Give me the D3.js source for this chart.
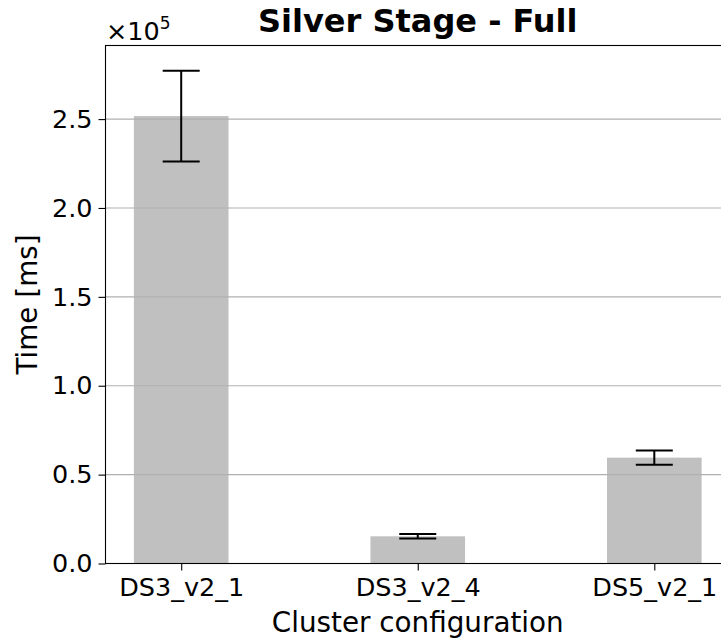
<!DOCTYPE html>
<html><head><meta charset="utf-8">
<script src="https://cdn.jsdelivr.net/npm/d3@7"></script>
<style>body{margin:0;background:#fff}svg{display:block}text{font-family:"DejaVu Sans",sans-serif}</style>
</head><body><svg id="c" width="721" height="639"></svg>
<script>
const categories = ["DS3_v2_1", "DS3_v2_4", "DS5_v2_1"];
const values = [251700, 15300, 59550];
const errors = [25500, 1300, 4000];
const yTicks = [0, 50000, 100000, 150000, 200000, 250000];
const yTickLabels = ["0.0", "0.5", "1.0", "1.5", "2.0", "2.5"];

(function(){
const svg = d3.select("#c");
const L = 105.5, R = 730, T = 45.5, B = 563.5;
const x = d3.scaleLinear().domain([-0.32, 2.32]).range([L, R]);
const y = d3.scaleLinear().domain([0, 291400]).range([B, T]);
const barW = 0.4;
const tickFont = 25.5, labelFont = 27.8;

svg.selectAll("rect.bar").data(values).enter().append("rect")
  .attr("x", (d,i) => x(i - barW/2)).attr("width", (d,i) => x(i + barW/2) - x(i - barW/2))
  .attr("y", d => y(d)).attr("height", d => B - y(d)).attr("fill", "#c0c0c0");

svg.selectAll("line.grid").data(yTicks.slice(1)).enter().append("line")
  .attr("x1", L).attr("x2", R).attr("y1", d => y(d)).attr("y2", d => y(d))
  .attr("stroke", "#b0b0b0").attr("stroke-width", 1.1);

const eb = svg.append("g").attr("stroke", "#000").attr("stroke-width", 2);
values.forEach((v, i) => {
  const cx = x(i);
  eb.append("line").attr("x1", cx).attr("x2", cx).attr("y1", y(v - errors[i])).attr("y2", y(v + errors[i]));
  [v - errors[i], v + errors[i]].forEach(e => eb.append("line").attr("x1", cx - 18.5).attr("x2", cx + 18.5).attr("y1", y(e)).attr("y2", y(e)));
});

const yAxis = d3.axisLeft(y).tickValues(yTicks).tickFormat((d,i) => yTickLabels[i]).tickSize(7).tickPadding(6);
const gy = svg.append("g").attr("transform", `translate(${L},0)`).call(yAxis);
gy.select(".domain").remove();
gy.selectAll("text").attr("font-size", tickFont).attr("fill", "#000").attr("font-family", "DejaVu Sans");
gy.selectAll("line").attr("stroke", "#000").attr("stroke-width", 1.1);

const xAxis = d3.axisBottom(x).tickValues([0,1,2]).tickFormat(i => categories[i]).tickSize(7).tickPadding(7);
const gx = svg.append("g").attr("transform", `translate(0,${B})`).call(xAxis);
gx.select(".domain").remove();
gx.selectAll("text").attr("font-size", tickFont).attr("fill", "#000").attr("font-family", "DejaVu Sans");
gx.selectAll("line").attr("stroke", "#000").attr("stroke-width", 1.1);

svg.append("rect").attr("x", L).attr("y", T).attr("width", R - L).attr("height", B - T)
  .attr("fill", "none").attr("stroke", "#000").attr("stroke-width", 1.1);

svg.append("text").attr("x", (L + R) / 2).attr("y", 32).attr("text-anchor", "middle")
  .attr("font-size", 32).attr("font-weight", "bold").text("Silver Stage - Full");
svg.append("text").attr("x", (L + R) / 2).attr("y", 631.5).attr("text-anchor", "middle")
  .attr("font-size", labelFont).text("Cluster configuration");
svg.append("text").attr("transform", `translate(36.5,${(T + B) / 2}) rotate(-90)`).attr("text-anchor", "middle")
  .attr("font-size", labelFont).text("Time [ms]");
const off = svg.append("text").attr("x", 106).attr("y", 40).attr("font-size", tickFont);
off.append("tspan").text("×10");
off.append("tspan").attr("dy", -11).attr("font-size", 17).text("5");
})();
</script></body></html>
